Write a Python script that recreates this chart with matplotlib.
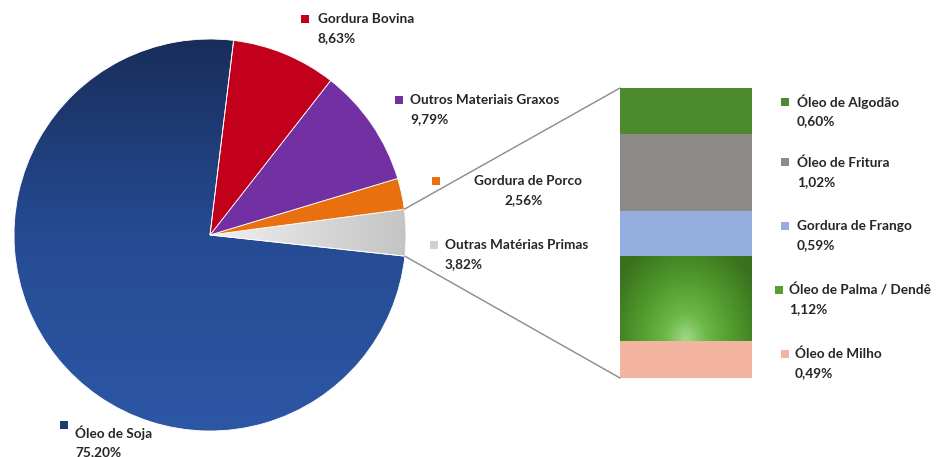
import numpy as np
import matplotlib
matplotlib.use("Agg")
import matplotlib.pyplot as plt
from matplotlib.patches import Rectangle, ConnectionPatch
from matplotlib.colors import LinearSegmentedColormap

plt.rcParams['font.family'] = ['Lato', 'DejaVu Sans']

# ---- data ----
pie_labels = ["Outras Matérias Primas", "Gordura de Porco", "Outros Materiais Graxos",
              "Gordura Bovina", "Óleo de Soja"]
pie_values = [3.82, 2.56, 9.79, 8.63, 75.20]
pie_pct = ["3,82%", "2,56%", "9,79%", "8,63%", "75,20%"]

bar_labels = ["Óleo de Milho", "Óleo de Palma / Dendê", "Gordura de Frango",
              "Óleo de Fritura", "Óleo de Algodão"]
bar_values = [0.49, 1.12, 0.59, 1.02, 0.60]
bar_pct = ["0,49%", "1,12%", "0,59%", "1,02%", "0,60%"]

pie_colors = ["#d4d4d4", "#e8700e", "#7230a2", "#c2001b", "#2a52a0"]
bar_colors = ["#f3b5a0", "#4f9a2c", "#95aee0", "#8d8a8a", "#4c8a2e"]

W, H = 939, 457
fig = plt.figure(figsize=(W / 100, H / 100), dpi=100)
fig.patch.set_facecolor("white")

def fx(x):
    return x / W

def fy(y):
    return 1 - y / H

# ---- pie ----
cx, cy, r = 210, 235, 196
axp = fig.add_axes([fx(cx - r), fy(cy + r), 2 * r / W, 2 * r / H])
wedges, _ = axp.pie(pie_values, colors=pie_colors, startangle=-6.2, counterclock=True,
                    wedgeprops=dict(edgecolor="white", linewidth=0.6))
axp.set_xlim(-1, 1)
axp.set_ylim(-1, 1)
axp.set_axis_off()

# vertical gradient for soja: dark navy at top -> blue at bottom
yy = np.linspace(0, 1, 256)[:, None] * np.ones((1, 4))
soja_cmap = LinearSegmentedColormap.from_list("soja", ["#2c57a5", "#264b93", "#182d5a"])
im = axp.imshow(yy, extent=[-1, 1, -1, 1], cmap=soja_cmap, aspect="auto", zorder=1,
                origin="lower", interpolation="bilinear")
im.set_clip_path(wedges[4])
# gradient for grey slice
grey_cmap = LinearSegmentedColormap.from_list("grey", ["#f0f0f0", "#c4c4c4"])
gx = np.linspace(0, 1, 256)[None, :] * np.ones((4, 1))
im2 = axp.imshow(gx, extent=[0, 1, -0.2, 0.2], cmap=grey_cmap, aspect="auto", zorder=1,
                 interpolation="bilinear")
im2.set_clip_path(wedges[0])
for w in wedges:
    w.set_zorder(2)
wedges[4].set_facecolor("none")
wedges[0].set_facecolor("none")

# ---- bar ----
bx0, bx1, by0, by1 = 620, 752, 88, 378
axb = fig.add_axes([fx(bx0), fy(by1), (bx1 - bx0) / W, (by1 - by0) / H])
bottoms = np.concatenate([[0], np.cumsum(bar_values)[:-1]])
bars = axb.bar([0] * len(bar_values), bar_values, bottom=bottoms, width=1.0,
               color=bar_colors, edgecolor="none")
total = sum(bar_values)
axb.set_xlim(-0.5, 0.5)
axb.set_ylim(0, total)
axb.set_axis_off()

# radial gradient for palma (light spot at bottom centre)
palma = bars[1]
ny, nx = 200, 200
X, Y = np.meshgrid(np.linspace(-1, 1, nx), np.linspace(0, 1, ny))
Rr = np.sqrt((X / 1.25) ** 2 + ((Y - 0.0) / 1.25) ** 2)
palma_cmap = LinearSegmentedColormap.from_list(
    "palma", ["#a2d98a", "#6cb947", "#56a232", "#468a26", "#3a701e"])
im3 = axb.imshow(np.clip(Rr, 0, 1), extent=[-0.5, 0.5, bottoms[1], bottoms[1] + bar_values[1]],
                 cmap=palma_cmap, aspect="auto", origin="lower", zorder=3, interpolation="bilinear")
im3.set_clip_path(palma)

# ---- connectors ----
g = wedges[0]
for ang, yb in [(g.theta2, total), (g.theta1, 0)]:
    p = (np.cos(np.radians(ang)), np.sin(np.radians(ang)))
    con = ConnectionPatch(xyA=p, coordsA=axp.transData, xyB=(-0.5, yb), coordsB=axb.transData,
                          color="#8a8a8a", linewidth=1.0)
    fig.add_artist(con)

# ---- labels ----
txt_kw = dict(fontsize=9.8, fontweight="bold", color="#262626")

def label(mx, my, tx, ty, name, pct, color, ha="left", pct_x=None):
    fig.add_artist(Rectangle((fx(mx), fy(my + 8)), 8 / W, 8 / H, transform=fig.transFigure,
                             facecolor=color, edgecolor="none"))
    fig.text(fx(tx), fy(ty), name, ha=ha, va="center", **txt_kw)
    fig.text(fx(pct_x if pct_x is not None else tx), fy(ty + 19), pct, ha=ha, va="center", **txt_kw)

label(301, 15, 318, 19, pie_labels[3], pie_pct[3], pie_colors[3])
label(395, 96, 410, 100, pie_labels[2], pie_pct[2], pie_colors[2])
label(432, 177, 528, 181, pie_labels[1], pie_pct[1], pie_colors[1], ha="center", pct_x=524)
label(430, 241, 445, 245, pie_labels[0], pie_pct[0], "#d0d0d0")
label(60, 421, 75, 433, pie_labels[4], pie_pct[4], "#1f3d75")

label(781, 98, 797, 102, bar_labels[4], bar_pct[4], bar_colors[4])
label(781, 158, 797, 163, bar_labels[3], bar_pct[3], bar_colors[3])
label(781, 222, 797, 226, bar_labels[2], bar_pct[2], bar_colors[2])
label(775, 286, 789, 290, bar_labels[1], bar_pct[1], "#5a9e2e")
label(781, 350, 795, 354, bar_labels[0], bar_pct[0], bar_colors[0])

fig.savefig("out.png", dpi=100, facecolor="white")
